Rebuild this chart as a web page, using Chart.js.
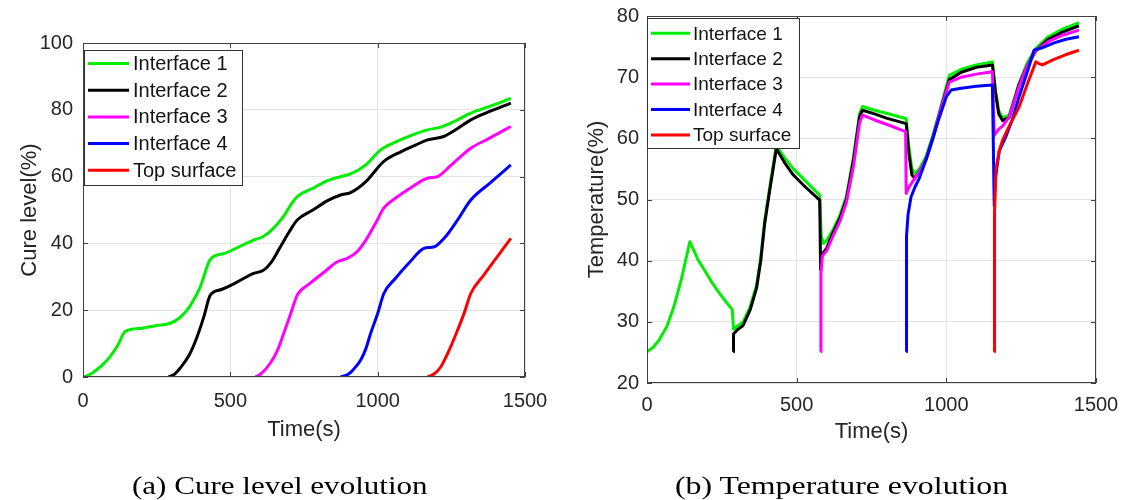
<!DOCTYPE html>
<html>
<head>
<meta charset="utf-8">
<script src="https://cdn.jsdelivr.net/npm/chart.js@4.4.1/dist/chart.umd.min.js"></script>
<style>
  html, body { margin: 0; padding: 0; background: #fff; }
  #wrap { position: relative; width: 1122px; height: 500px; overflow: hidden; }
  canvas { position: absolute; }
  #cureChart { left: 0; top: 0; }
  #tempChart { left: 561px; top: -20px; }
  .caption { position: absolute; top: 473px; font-family: "Liberation Serif", serif; font-size: 26px;
             line-height: 26px; color: #000; white-space: nowrap; transform-origin: left center; }
</style>
</head>
<body>
<div id="wrap">
  <canvas id="cureChart" width="561" height="500"></canvas>
  <canvas id="tempChart" width="600" height="520"></canvas>
  <div class="caption" id="capA" style="left:132px">(a) Cure level evolution</div>
  <div class="caption" id="capB" style="left:675px">(b) Temperature evolution</div>
</div>
<script>
// Series names / colours (legend order)
const seriesNames = ['Interface 1', 'Interface 2', 'Interface 3', 'Interface 4', 'Top surface'];
const seriesColors = ['#00ee00', '#000000', '#ff00ff', '#0000ff', '#ff0000'];

// Axis ticks
const timeTicks = [0, 500, 1000, 1500];
const cureTicks = [0, 20, 40, 60, 80, 100];
const tempTicks = [20, 30, 40, 50, 60, 70, 80];

// (a) Cure level (%) vs time (s)
const cureT1 = [0, 20, 46, 70, 92, 118, 143, 200, 250, 296, 325, 353, 375, 398, 432, 480, 530, 579, 610, 640, 680, 705, 727, 780, 830, 874, 908, 960, 1010, 1060, 1110, 1169, 1214, 1260, 1316, 1380, 1452];
const cure1  = [0, 0.6, 2.1, 4, 6.1, 9.5, 13.6, 14.6, 15.4, 16.1, 17.5, 20, 23, 27, 35.2, 37, 39, 41, 42, 44, 48, 51.5, 54, 56.5, 58.8, 60, 60.8, 63.5, 68, 70.3, 72.2, 74, 74.8, 76.5, 79, 81, 83.4];
const cureT2 = [290, 310, 330, 360, 387, 410, 432, 470, 510, 545, 579, 613, 640, 670, 700, 727, 780, 830, 874, 908, 960, 1020, 1080, 1130, 1169, 1224, 1270, 1316, 1380, 1452];
const cure2  = [0, 0.8, 2.7, 6.5, 12, 18, 24.5, 26.2, 27.8, 29.5, 31, 32, 34.5, 39, 43.5, 47, 50, 52.8, 54.5, 55.2, 58.5, 64.5, 67.5, 69.5, 71, 72, 74.3, 77, 79.5, 82];
const cureT3 = [585, 605, 636, 660, 681, 705, 727, 770, 820, 863, 897, 930, 960, 999, 1020, 1060, 1110, 1169, 1203, 1250, 1316, 1380, 1452];
const cure3  = [0, 1, 4.2, 8, 13, 19, 24.5, 28, 31.5, 34.5, 35.5, 37.5, 41, 47, 50.5, 53.5, 56.5, 59.5, 60, 63.5, 68.5, 71.5, 75];
const cureT4 = [874, 900, 920, 942, 960, 976, 1000, 1021, 1060, 1110, 1157, 1192, 1230, 1271, 1316, 1380, 1452];
const cure4  = [0, 0.8, 2.5, 5, 8.5, 13, 19, 25, 29.5, 34.5, 38.5, 39, 42, 47, 53, 58, 63.5];
const cureT5 = [1169, 1190, 1214, 1240, 1271, 1295, 1316, 1360, 1410, 1452];
const cure5  = [0, 0.8, 3, 7.5, 14, 19.5, 25, 30.5, 36.5, 41.5];

// (b) Temperature (%) vs time (s)
const tempT1 = [0, 20, 40, 66, 90, 115, 143, 170, 199, 220, 243, 265, 285, 289, 300, 321, 345, 366, 380, 393, 410, 432, 460, 489, 530, 577, 582, 590, 600, 621, 645, 666, 690, 710, 720, 760, 800, 866, 875, 885, 895, 910, 932, 955, 977, 1010, 1050, 1100, 1154, 1164, 1175, 1188, 1210, 1243, 1270, 1299, 1340, 1390, 1443];
const temp1  = [25.1, 25.8, 27, 29.2, 32.5, 37, 43.1, 40.2, 37.9, 36.2, 34.6, 33.2, 32, 28.8, 29.2, 30, 32.5, 36, 40.5, 46.5, 52, 58.8, 56.8, 55, 53, 50.7, 44, 42.8, 43.3, 45, 47.5, 50.5, 57, 64, 65.2, 64.6, 64.1, 63.2, 58.5, 55, 54.3, 55, 57, 60.5, 64.3, 70.3, 71.3, 72, 72.5, 68, 64.5, 63.3, 63.8, 69, 72.3, 74.7, 76.6, 77.9, 78.9];
const tempT2 = [288, 289, 300, 321, 345, 366, 380, 393, 410, 432, 460, 489, 530, 577, 580, 584, 600, 621, 645, 666, 690, 710, 720, 760, 800, 866, 875, 885, 895, 910, 932, 955, 977, 1010, 1050, 1100, 1154, 1164, 1175, 1188, 1210, 1243, 1270, 1299, 1340, 1390, 1443];
const temp2  = [25.1, 28, 28.6, 29.4, 32, 35.5, 40, 46, 51.5, 58.3, 56, 54, 52, 49.9, 38.5, 41, 42, 44.5, 47, 50, 56.5, 63.5, 64.6, 64, 63.3, 62.4, 57.5, 54, 53.5, 54.5, 56.5, 60, 64, 69.6, 70.8, 71.6, 72, 67.5, 64, 62.9, 63.4, 68.8, 71.8, 74.3, 76.2, 77.4, 78.4];
const tempT3 = [580, 581, 586, 600, 621, 645, 666, 690, 710, 720, 760, 800, 864, 866, 875, 895, 910, 932, 955, 977, 1010, 1050, 1100, 1154, 1160, 1175, 1188, 1210, 1243, 1270, 1299, 1340, 1390, 1443];
const temp3  = [25.1, 38, 40.8, 41.6, 44, 46.5, 49.5, 55.5, 62.5, 63.8, 63, 62.3, 61.1, 51, 52, 53.5, 54.5, 56.5, 60, 64, 69.2, 70, 70.5, 70.9, 60.5, 61.5, 62, 63.5, 68.5, 71.8, 74.4, 75.8, 76.9, 77.7];
const tempT4 = [866, 867, 872, 882, 895, 910, 932, 955, 977, 1000, 1016, 1050, 1100, 1154, 1160, 1164, 1177, 1199, 1220, 1243, 1270, 1293, 1320, 1360, 1400, 1443];
const temp4  = [25.1, 44, 47.5, 50.4, 52, 53.5, 56.5, 60, 63.5, 66.8, 67.9, 68.2, 68.5, 68.7, 49, 53.5, 58, 60.3, 63, 66.8, 70.8, 74.4, 74.8, 75.6, 76.2, 76.6];
const tempT5 = [1160, 1161, 1166, 1177, 1188, 1210, 1243, 1270, 1299, 1310, 1321, 1360, 1400, 1443];
const temp5  = [25.1, 48, 55, 58, 59.7, 62, 65.1, 68.8, 72.5, 72.2, 72, 72.9, 73.7, 74.4];

const cureSeries = [[cureT1, cure1], [cureT2, cure2], [cureT3, cure3], [cureT4, cure4], [cureT5, cure5]];
const tempSeries = [[tempT1, temp1], [tempT2, temp2], [tempT3, temp3], [tempT4, temp4], [tempT5, temp5]];

Chart.defaults.font.family = '"Liberation Sans", Arial, sans-serif';
Chart.defaults.color = '#262626';

// MATLAB-like box, inward ticks and legend inside the axes
const matlabBox = {
    id: 'matlabBox',
    afterDraw(chart, args, opts) {
        const { ctx, chartArea: a, scales } = chart;
        ctx.save();
        ctx.strokeStyle = '#404040';
        ctx.lineWidth = 1;
        ctx.strokeRect(a.left + 0.5, a.top + 0.5, a.right - a.left - 1, a.bottom - a.top - 1);
        ctx.beginPath();
        scales.x.ticks.forEach(t => {
            const px = Math.round(scales.x.getPixelForValue(t.value)) + 0.5;
            ctx.moveTo(px, a.bottom); ctx.lineTo(px, a.bottom - 5);
            ctx.moveTo(px, a.top); ctx.lineTo(px, a.top + 5);
        });
        scales.y.ticks.forEach(t => {
            const py = Math.round(scales.y.getPixelForValue(t.value)) + 0.5;
            ctx.moveTo(a.left, py); ctx.lineTo(a.left + 5, py);
            ctx.moveTo(a.right, py); ctx.lineTo(a.right - 5, py);
        });
        ctx.stroke();

        // legend
        const lg = opts.legend;
        const bx = a.left + lg.x, by = a.top + lg.y;
        ctx.fillStyle = '#fff';
        ctx.fillRect(bx, by, lg.w, lg.h);
        ctx.strokeStyle = '#333';
        ctx.strokeRect(bx + 0.5, by + 0.5, lg.w, lg.h);
        ctx.font = lg.fontSize + 'px "Liberation Sans", Arial, sans-serif';
        ctx.textBaseline = 'middle';
        ctx.textAlign = 'left';
        chart.data.datasets.forEach((ds, i) => {
            const cy = by + lg.first + i * lg.step;
            ctx.strokeStyle = ds.borderColor;
            ctx.lineWidth = 3;
            ctx.beginPath();
            ctx.moveTo(bx + lg.line0, cy);
            ctx.lineTo(bx + lg.line1, cy);
            ctx.stroke();
            ctx.fillStyle = '#141414';
            ctx.fillText(ds.label, bx + lg.text, cy + 1);
        });
        ctx.restore();
    }
};

function makeDatasets(series, smooth) {
    return series.map(([ts, vs], i) => ({
        label: seriesNames[i],
        data: ts.map((t, j) => ({ x: t, y: vs[j] })),
        borderColor: seriesColors[i],
        borderWidth: 3,
        pointRadius: 0,
        tension: smooth ? 0.4 : 0,
        cubicInterpolationMode: smooth ? 'monotone' : 'default',
        fill: false,
        order: 4 - i,
        borderJoinStyle: 'round'
    }));
}

function makeChart(id, series, yTicks, yTitle, cfg) {
    new Chart(document.getElementById(id), {
        type: 'line',
        data: { datasets: makeDatasets(series, cfg.smooth) },
        plugins: [matlabBox],
        options: {
            responsive: false,
            animation: false,
            layout: { padding: cfg.padding },
            plugins: {
                legend: { display: false },
                tooltip: { enabled: false },
                matlabBox: { legend: cfg.legend }
            },
            scales: {
                x: {
                    type: 'linear',
                    min: timeTicks[0],
                    max: timeTicks[timeTicks.length - 1],
                    ticks: { stepSize: timeTicks[1] - timeTicks[0], font: { size: 20 }, color: '#262626',
                             padding: cfg.xPad, maxRotation: 0, callback: v => String(v) },
                    grid: { color: '#e3e3e3', drawTicks: false },
                    border: { display: false },
                    title: { display: true, text: 'Time(s)', font: { size: 22 }, color: '#262626', padding: 0 },
                    afterFit(s) { s.height = cfg.xHeight; }
                },
                y: {
                    min: yTicks[0],
                    max: yTicks[yTicks.length - 1],
                    ticks: { stepSize: yTicks[1] - yTicks[0], font: { size: 20 }, color: '#262626',
                             padding: cfg.yPad, callback: v => String(v) },
                    grid: { color: '#e3e3e3', drawTicks: false },
                    border: { display: false },
                    title: { display: true, text: yTitle, font: { size: 22 }, color: '#262626', padding: { top: cfg.yTitlePad, bottom: 0 } },
                    afterFit(s) { s.width = cfg.yWidth; }
                }
            }
        }
    });
}

makeChart('cureChart', cureSeries, cureTicks, 'Cure level(%)', {
    smooth: true,
    padding: { left: 0, top: 43, right: 36, bottom: 57 },
    xHeight: 66, yWidth: 83, xPad: 12, yPad: 10, yTitlePad: 17,
    legend: { x: 1, y: 7, w: 158, h: 135, first: 13.5, step: 26.7, line0: 4, line1: 45, text: 49, fontSize: 20 }
});

// canvas is 600x520 placed at (561,-20): plot area 647..1096 x 16..383 on the page
makeChart('tempChart', tempSeries, tempTicks, 'Temperature(%)', {
    smooth: false,
    padding: { left: 0, top: 36, right: 65, bottom: 55 },
    xHeight: 62, yWidth: 86, xPad: 10, yPad: 8, yTitlePad: 23,
    legend: { x: 0, y: 2, w: 152, h: 130, first: 15.3, step: 25.4, line0: 4, line1: 43, text: 46, fontSize: 19 }
});

// fit captions to the widths of the original figure captions
[['capA', 296], ['capB', 333]].forEach(([id, w]) => {
    const el = document.getElementById(id);
    el.style.transform = 'scaleX(' + (w / el.offsetWidth) + ')';
});
</script>
</body>
</html>
